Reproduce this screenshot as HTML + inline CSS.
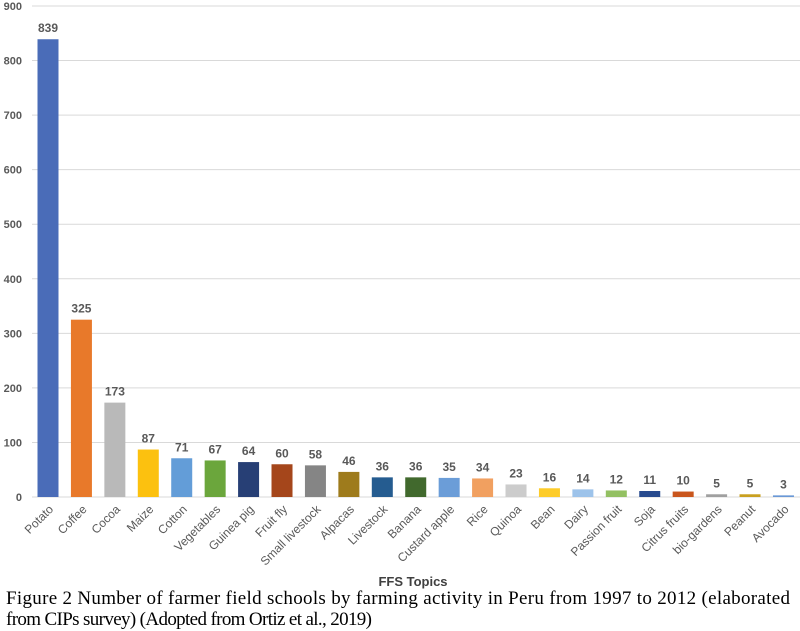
<!DOCTYPE html>
<html><head><meta charset="utf-8"><style>
body{margin:0;background:#fff;width:800px;height:631px;overflow:hidden}
svg{display:block}
.t{font-family:"Liberation Sans",sans-serif;fill:#595959}
.cap{font-family:"Liberation Serif",serif;font-size:19px;fill:#000}
</style></head><body>
<svg width="800" height="631" xmlns="http://www.w3.org/2000/svg">
<g id="grid" stroke="#d9d9d9" stroke-width="1"></g>
<g id="bars"></g>
<text x="413" y="586" text-anchor="middle" class="t" style="font-size:13px;font-weight:bold;fill:#404040">FFS Topics</text>
<text x="6" y="604" class="cap" textLength="784" lengthAdjust="spacing">Figure 2 Number of farmer field schools by farming activity in Peru from 1997 to 2012 (elaborated</text>
<text x="6" y="625" class="cap" textLength="366" lengthAdjust="spacing">from CIPs survey) (Adopted from Ortiz et al., 2019)</text>
</svg>
<script>
var ns="http://www.w3.org/2000/svg";
function el(t,a,p,txt){var e=document.createElementNS(ns,t);for(var k in a)e.setAttribute(k,a[k]);if(txt!=null)e.textContent=txt;document.querySelector(p).appendChild(e);return e;}
function Y(v){return 497-v*0.5456;}
for(var i=0;i<=9;i++){var y=Y(i*100);el("line",{x1:32,x2:800,y1:y,y2:y},"#grid");
el("text",{x:22,y:y+4,"text-anchor":"end","class":"t","font-size":"11","font-weight":"bold"},"svg",String(i*100));}
var d=[["Potato",839,"#4a6cb8"],["Coffee",325,"#e8792a"],["Cocoa",173,"#b9b9b9"],["Maize",87,"#fcc10f"],["Cotton",71,"#639dd8"],["Vegetables",67,"#6ba63c"],["Guinea pig",64,"#273f75"],["Fruit fly",60,"#a5461b"],["Small livestock",58,"#858585"],["Alpacas",46,"#9e7b1c"],["Livestock",36,"#255c90"],["Banana",36,"#41692d"],["Custard apple",35,"#6b9dd8"],["Rice",34,"#f1a060"],["Quinoa",23,"#cccccc"],["Bean",16,"#fdcc2a"],["Dairy",14,"#9dc3ea"],["Passion fruit",12,"#93c062"],["Soja",11,"#284b8f"],["Citrus fruits",10,"#c9561d"],["bio-gardens",5,"#a0a0a0"],["Peanut",5,"#c9a020"],["Avocado",3,"#6a98d6"]];
d.forEach(function(r,i){var cx=48+i*33.43,y=Y(r[1]);
el("rect",{x:cx-10.5,y:y,width:21,height:497-y,fill:r[2]},"#bars");
el("text",{x:cx,y:y-7,"text-anchor":"middle","class":"t","font-size":"12","font-weight":"bold"},"svg",String(r[1]));
el("text",{x:cx+6,y:510,"text-anchor":"end","class":"t","font-size":"12",transform:"rotate(-45 "+(cx+6)+" 510)"},"svg",r[0]);});
</script>
</body></html>
